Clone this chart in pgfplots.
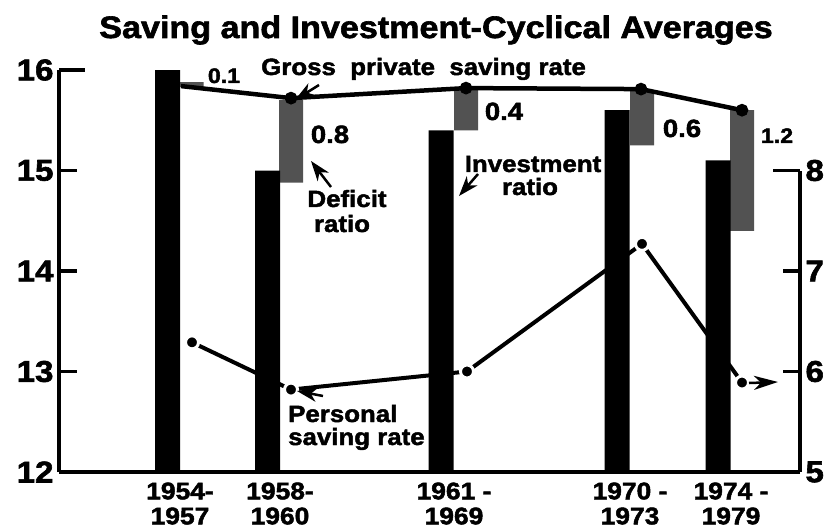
\documentclass[border=0pt]{standalone}
\usepackage{pgfplots}
\pgfplotsset{compat=1.18}
\usetikzlibrary{arrows.meta}
\usepackage{fontspec}
\setmainfont{Liberation Sans}
\newfontfamily\heavy[FakeStretch=1.1,BoldFeatures={FakeBold=2}]{Liberation Sans}
\newcommand\hv[1]{\heavy\bfseries\fontsize{#1}{#1}\selectfont}
\newcommand\hvl[2]{\heavy\bfseries\fontsize{#1}{#2}\selectfont}
\definecolor{deficit}{gray}{0.32}

\begin{document}
\begin{tikzpicture}[x=1pt,y=1pt]
\useasboundingbox (0,0) rectangle (834,528);

% Axis A: personal saving rate (right axis, 5-8)
\begin{axis}[at={(59pt,56pt)}, anchor=south west, scale only axis,
  width=741pt, height=301.5pt,
  xmin=59, xmax=800, ymin=5, ymax=8,
  axis x line=none, axis y line*=right,
  axis line style={-, line width=3.5pt},
  ytick={5,6,7}, extra y ticks={8},
  extra y tick style={major tick length=27pt},
  tick align=inside, major tick length=17pt,
  ytick style={line width=3.5pt, black},
  yticklabel style={font=\hv{30}, xshift=2pt},
  /pgf/number format/assume math mode=true]
\addplot[line width=4pt, mark=*, mark size=6.5pt,
  mark options={fill=black, draw=white, line width=3pt}]
  coordinates {(192,6.29) (291,5.82) (467,6.0) (642,7.27) (742,5.89)};
\end{axis}

% Axis C: deficit ratio (floating grey bars)
\begin{axis}[at={(59pt,56pt)}, anchor=south west, scale only axis,
  width=741pt, height=402pt,
  xmin=59, xmax=800, ymin=12, ymax=16,
  hide axis, ybar stacked, bar width=24pt]
\addplot[draw=none, fill=none]
  coordinates {(191.5,15.83) (291,14.88) (466,15.40) (642,15.25) (742,14.40)};
\addplot[draw=none, fill=deficit]
  coordinates {(191.5,0.05) (291,0.82) (466,0.43) (642,0.55) (742,1.20)};
\end{axis}

% Axis B: investment ratio, gross private saving rate, left axis
\begin{axis}[at={(59pt,56pt)}, anchor=south west, scale only axis,
  width=741pt, height=402pt,
  xmin=59, xmax=800, ymin=12, ymax=16,
  axis x line*=bottom, axis y line*=left,
  axis line style={-, line width=4.5pt},
  ytick={12,13,14,15}, extra y ticks={16},
  extra y tick style={major tick length=26pt},
  tick align=inside, major tick length=18pt,
  ytick style={line width=3.5pt, black},
  yticklabel style={font=\hv{30}, xshift=-2pt},
  xtick={180,280,454,630,731},
  xticklabels={{1954-\\1957},{1958-\\1960},{1961 -\\1969},{1970 -\\1973},{1974 -\\1979}},
  xtick style={draw=none},
  xticklabel style={align=center, font=\hvl{24}{25}, yshift=-7pt},
  /pgf/number format/assume math mode=true]
\addplot[ybar, bar width=25pt, bar shift=0pt, fill=black, draw=none]
  coordinates {(167.5,16.0) (267.5,15.0) (441,15.4) (617,15.6) (718,15.1)};
\addplot[line width=4.5pt, mark=*, mark size=4pt, mark indices={2,3,4,5}]
  coordinates {(181,15.84) (291,15.72) (466,15.82) (641,15.81) (742,15.60)};
\end{axis}

% Title and annotations (picture coordinates, 1pt = 1px, y up)
\node[anchor=base, font=\hv{31}, inner sep=0pt] at (436,490) {Saving and Investment-Cyclical Averages};
\node[anchor=base west, font=\hv{23.5}, inner sep=0pt] at (261,453) {Gross\ \ private\ \ saving rate};
\node[anchor=base, font=\hv{21}, inner sep=0pt] at (224,445) {0.1};
\node[anchor=base, font=\hv{25}, inner sep=0pt] at (330,385) {0.8};
\node[anchor=base, font=\hv{25}, inner sep=0pt] at (504,408) {0.4};
\node[anchor=base, font=\hv{25}, inner sep=0pt] at (682,391) {0.6};
\node[anchor=base, font=\hv{21}, inner sep=0pt] at (777,385) {1.2};
\node[anchor=base, font=\hv{23.5}, inner sep=0pt] at (347,321) {Deficit};
\node[anchor=base, font=\hv{23.5}, inner sep=0pt] at (342,296) {ratio};
\node[anchor=base, font=\hv{23.5}, inner sep=0pt] at (533,356) {Investment};
\node[anchor=base, font=\hv{23.5}, inner sep=0pt] at (530,333) {ratio};
\node[anchor=base west, font=\hv{23.5}, inner sep=0pt] at (288,106) {Personal};
\node[anchor=base west, font=\hv{23.5}, inner sep=0pt] at (288,83) {saving rate};

% pointer arrowheads (solid darts)
\tikzset{ptr/.style={line width=2.5pt, -{Stealth[length=20pt, width=14pt, inset=6pt]}}}
\draw[ptr] (319,443) -- (295,428);
\draw[ptr] (331,341) -- (311,367);
\draw[ptr] (478,354) -- (459,332);
\draw[ptr] (323,132) -- (297,137);
\draw[ptr, -{Stealth[length=24pt, width=14pt, inset=7pt]}] (749,145) -- (778,146);
\end{tikzpicture}
\end{document}
